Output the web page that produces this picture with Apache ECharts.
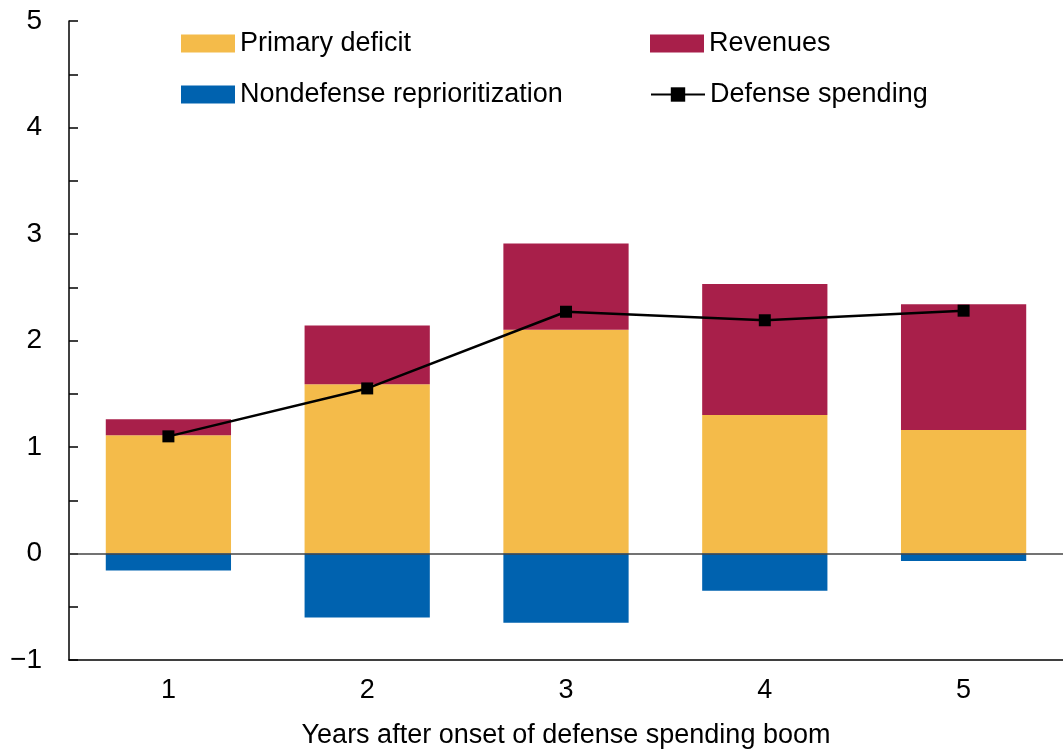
<!DOCTYPE html>
<html>
<head>
<meta charset="utf-8">
<script src="https://cdn.jsdelivr.net/npm/echarts@6/dist/echarts.min.js"></script>
<style>
  html, body { margin: 0; padding: 0; background: #fff; }
  #chart { width: 1063px; height: 752px; }
</style>
</head>
<body>
<div id="chart"></div>
<script>
  // years after onset
  const years = ['1', '2', '3', '4', '5'];
  // percent of GDP
  const primaryDeficit = [1.11, 1.59, 2.10, 1.30, 1.16];
  const revenues = [0.15, 0.55, 0.81, 1.23, 1.18];
  const nondefense = [-0.16, -0.60, -0.65, -0.35, -0.07];
  const defenseSpending = [1.10, 1.55, 2.27, 2.19, 2.28];

  const font = '"Liberation Sans Narrow", "Arial Narrow", "Liberation Sans", sans-serif';

  const chart = echarts.init(document.getElementById('chart'));

  const legendBase = {
    itemWidth: 54,
    itemHeight: 18,
    itemGap: 0,
    padding: 0,
    selectedMode: false,
    textStyle: { fontFamily: font, fontSize: 27, color: '#000' }
  };

  let option = {
    animation: false,
    backgroundColor: '#fff',
    textStyle: { fontFamily: font },
    legend: [
      Object.assign({ data: [{ name: 'Primary deficit', icon: 'rect' }], left: 181, top: 30 }, legendBase),
      Object.assign({ data: [{ name: 'Revenues', icon: 'rect' }], left: 650, top: 30 }, legendBase),
      Object.assign({ data: [{ name: 'Nondefense reprioritization', icon: 'rect' }], left: 181, top: 81 }, legendBase),
      Object.assign({ data: ['Defense spending'], left: 650, top: 81 }, legendBase)
    ],
    grid: {
      left: 69,
      right: 0,
      top: 21,
      bottom: 92,
      outerBoundsMode: 'none'
    },
    xAxis: {
      type: 'category',
      data: years,
      axisLine: { onZero: false, lineStyle: { color: '#000', width: 1.5 } },
      axisTick: { show: false },
      axisLabel: { color: '#000', fontSize: 27, fontFamily: font, margin: 17 },
      name: 'Years after onset of defense spending boom',
      nameLocation: 'middle',
      nameGap: 62,
      nameTextStyle: { color: '#000', fontSize: 27, fontFamily: font }
    },
    yAxis: {
      type: 'value',
      min: -1,
      max: 5,
      interval: 1,
      axisLine: { show: true, lineStyle: { color: '#000', width: 1.5 } },
      axisTick: { show: true, inside: true, length: 9, lineStyle: { color: '#000', width: 1.5 } },
      minorTick: { show: true, splitNumber: 2, length: 9, lineStyle: { color: '#000', width: 1.5 } },
      splitLine: { show: false },
      axisLabel: {
        color: '#000',
        fontSize: 28,
        fontFamily: font,
        margin: 27,
        formatter: (v) => String(v).replace('-', '\u2212')
      }
    },
    series: [
      {
        name: 'Primary deficit',
        type: 'bar',
        stack: 'total',
        barWidth: '63%',
        itemStyle: { color: '#F4BB4A' },
        data: primaryDeficit,
        markLine: {
          silent: true,
          symbol: 'none',
          label: { show: false },
          lineStyle: { color: '#444', width: 1.5, type: 'solid' },
          data: [{ yAxis: 0 }]
        },
        z: 2
      },
      {
        name: 'Revenues',
        type: 'bar',
        stack: 'total',
        itemStyle: { color: '#A81F4A' },
        data: revenues
      },
      {
        name: 'Nondefense reprioritization',
        type: 'bar',
        stack: 'total',
        itemStyle: { color: '#0062AF' },
        data: nondefense
      },
      {
        name: 'Defense spending',
        type: 'line',
        symbol: 'rect',
        symbolSize: 12,
        lineStyle: { color: '#000', width: 2.5 },
        itemStyle: { color: '#000' },
        data: defenseSpending,
        z: 5
      }
    ]
  };

  chart.setOption(option);
</script>
</body>
</html>
